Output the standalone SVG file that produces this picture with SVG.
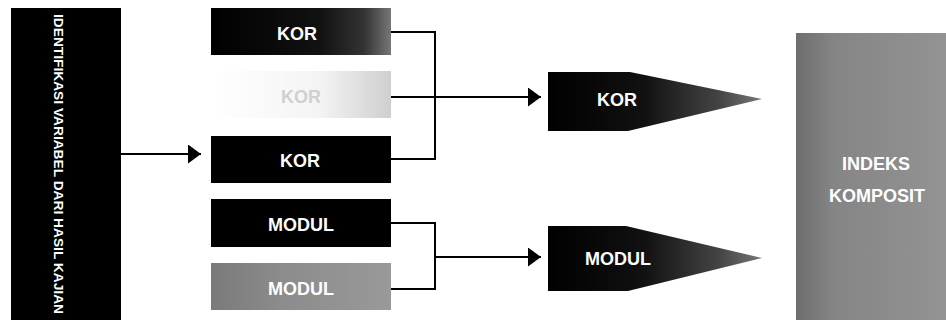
<svg xmlns="http://www.w3.org/2000/svg" width="946" height="320" viewBox="0 0 946 320">
<defs>
<style>
.lbl{font-family:"Liberation Sans",Arial,sans-serif;font-weight:bold;fill:#fff;text-anchor:middle}
.ln{fill:none;stroke:#000;stroke-width:2}
</style>
<linearGradient id="g1" x1="0" y1="0" x2="1" y2="0">
<stop offset="0" stop-color="#000"/><stop offset="0.6" stop-color="#111"/><stop offset="0.85" stop-color="#333"/><stop offset="1" stop-color="#777"/>
</linearGradient>
<linearGradient id="g2" x1="0" y1="0" x2="1" y2="0">
<stop offset="0" stop-color="#fff"/><stop offset="0.6" stop-color="#f4f4f4"/><stop offset="1" stop-color="#cfcfcf"/>
</linearGradient>
<linearGradient id="g5" x1="0" y1="0" x2="1" y2="0">
<stop offset="0" stop-color="#7a7a7a"/><stop offset="0.4" stop-color="#8c8c8c"/><stop offset="1" stop-color="#999"/>
</linearGradient>
<linearGradient id="gp" x1="0" y1="0" x2="1" y2="0">
<stop offset="0" stop-color="#000"/><stop offset="0.45" stop-color="#111"/><stop offset="0.8" stop-color="#444"/><stop offset="1" stop-color="#777"/>
</linearGradient>
<linearGradient id="gr" x1="0" y1="0" x2="1" y2="0">
<stop offset="0" stop-color="#6e6e6e"/><stop offset="0.25" stop-color="#858585"/><stop offset="1" stop-color="#939393"/>
</linearGradient>
<marker id="ah" markerUnits="userSpaceOnUse" markerWidth="14" markerHeight="20" refX="13" refY="9.5" orient="auto">
<path d="M0,0 L13,9.5 L0,19 Z" fill="#000"/>
</marker>
</defs>

<g id="identifikasi">
<rect x="11" y="8" width="110" height="312" fill="#000"/>
<text class="lbl" font-size="13" transform="translate(54,164) rotate(90)" x="0" y="0" textLength="300" lengthAdjust="spacingAndGlyphs">IDENTIFIKASI VARIABEL DARI HASIL KAJIAN</text>
</g>

<g id="kor1">
<rect x="211" y="8" width="180" height="47" fill="url(#g1)"/>
<text class="lbl" font-size="18" x="297" y="40">KOR</text>
</g>
<g id="kor2">
<rect x="211" y="71" width="180" height="47" fill="url(#g2)"/>
<text class="lbl" font-size="18" x="301" y="103" style="fill:#d0d0d0">KOR</text>
</g>
<g id="kor3">
<rect x="211" y="136" width="180" height="47" fill="#000"/>
<text class="lbl" font-size="18" x="300" y="167">KOR</text>
</g>
<g id="modul1">
<rect x="211" y="199" width="180" height="48" fill="#000"/>
<text class="lbl" font-size="18" x="301" y="231">MODUL</text>
</g>
<g id="modul2">
<rect x="211" y="263" width="180" height="47" fill="url(#g5)"/>
<text class="lbl" font-size="18" x="301" y="295">MODUL</text>
</g>

<g id="kor-out">
<path d="M548,72 L630,72 L762,99 L628,131 L548,131 Z" fill="url(#gp)"/>
<text class="lbl" font-size="18" x="617" y="106">KOR</text>
</g>
<g id="modul-out">
<path d="M548,226 L626,226 L762,258 L628,291 L548,291 Z" fill="url(#gp)"/>
<text class="lbl" font-size="18" x="618" y="265">MODUL</text>
</g>

<g id="indeks">
<rect x="796" y="33" width="150" height="287" fill="url(#gr)"/>
<text class="lbl" font-size="18" x="876" y="170">INDEKS</text>
<text class="lbl" font-size="18" x="877" y="202">KOMPOSIT</text>
</g>

<g id="connectors">
<path class="ln" d="M121,154 L201,154" marker-end="url(#ah)"/>
<path class="ln" d="M391,32 L435,32 L435,159 L391,159"/>
<path class="ln" d="M391,97 L541,97" marker-end="url(#ah)"/>
<path class="ln" d="M391,223 L435,223 L435,289 L391,289"/>
<path class="ln" d="M435,257 L541,257" marker-end="url(#ah)"/>
</g>
</svg>
